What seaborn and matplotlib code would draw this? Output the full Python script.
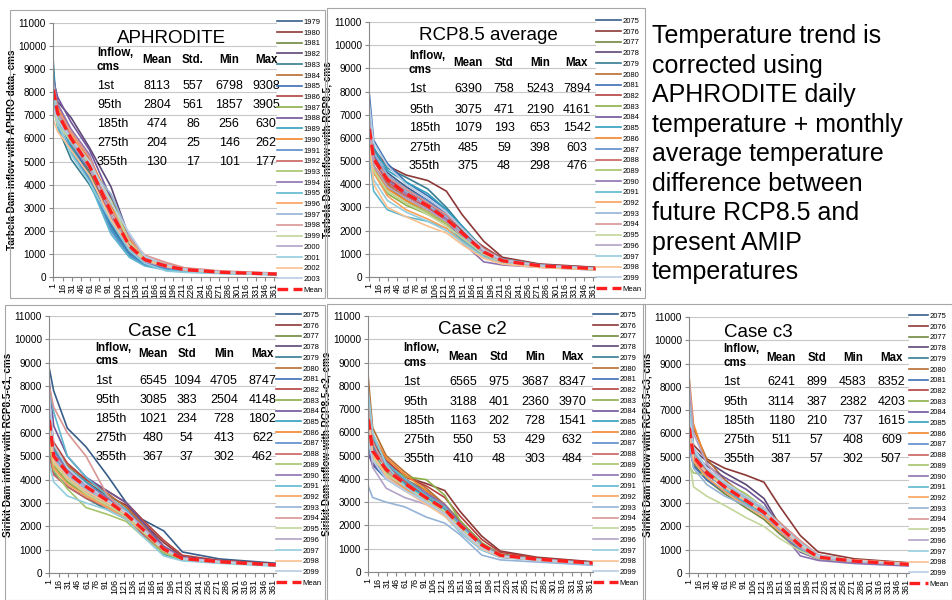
import matplotlib
matplotlib.use('Agg')
import matplotlib.pyplot as plt
import seaborn as sns
import pandas as pd
from matplotlib.patches import Rectangle

days = [1, 8, 30, 60, 95, 125, 150, 185, 215, 275, 365]
years_hist = [str(y) for y in range(1979, 2004)]
years_fut = [str(y) for y in range(2075, 2100)]

aphro_mean = [8113, 7100, 6000, 4800, 2804, 1350, 750, 474, 320, 204, 125]
aphro = [
    [8000, 7000, 5900, 4600, 2600, 1100, 650, 430, 300, 200, 120],
    [8400, 7300, 6200, 5000, 3000, 1500, 900, 560, 350, 220, 135],
    [7600, 6800, 5700, 4500, 2700, 1300, 700, 480, 310, 195, 120],
    [8700, 7600, 6900, 5600, 3905, 1700, 850, 500, 330, 210, 130],
    [9308, 6500, 5100, 4000, 2300, 1100, 620, 420, 290, 190, 115],
    [8300, 7200, 6100, 5100, 3100, 1500, 780, 470, 320, 205, 125],
    [7900, 6900, 5800, 4400, 2200, 1000, 560, 380, 270, 180, 110],
    [8100, 7100, 6000, 4700, 2500, 1200, 700, 450, 310, 200, 122],
    [7700, 6900, 6000, 4900, 3500, 1600, 800, 500, 330, 210, 128],
    [8500, 7800, 6700, 5500, 3400, 1400, 750, 480, 320, 205, 125],
    [8900, 7000, 5600, 4300, 2100, 950, 550, 360, 260, 175, 108],
    [8200, 7400, 6300, 5200, 3200, 1600, 820, 500, 330, 215, 130],
    [7500, 6600, 5500, 4200, 2000, 900, 520, 340, 250, 170, 105],
    [8000, 7200, 6100, 4900, 2900, 1450, 800, 520, 340, 215, 132],
    [7800, 7000, 5900, 4800, 3300, 1500, 760, 470, 310, 200, 122],
    [8600, 7500, 6400, 5300, 2600, 1150, 640, 420, 290, 190, 116],
    [7400, 6500, 5400, 4100, 1857, 850, 480, 300, 230, 160, 100],
    [8300, 7300, 6200, 5000, 3000, 1550, 900, 600, 380, 240, 150],
    [7600, 6800, 5800, 4700, 3600, 1800, 850, 520, 340, 215, 130],
    [8100, 7200, 6300, 5200, 2900, 1700, 950, 630, 400, 262, 170],
    [7200, 6600, 5900, 4900, 3300, 1500, 780, 480, 320, 210, 128],
    [8000, 7100, 6000, 4700, 2700, 1250, 680, 440, 300, 195, 120],
    [8400, 6700, 5300, 4100, 2400, 1150, 600, 256, 200, 146, 95],
    [6798, 6300, 5500, 4400, 2500, 1300, 720, 460, 310, 200, 122],
    [7300, 6800, 6000, 5000, 3200, 1900, 900, 530, 340, 220, 135],
]

rcp_mean = [6390, 5100, 4200, 3600, 3075, 2500, 1900, 1079, 700, 485, 360]
rcp = [
    [6500, 5300, 4500, 3900, 3300, 2700, 2000, 1100, 700, 500, 370],
    [7000, 5500, 4800, 4400, 4161, 3700, 2700, 1542, 850, 560, 420],
    [5800, 4700, 3900, 3300, 2800, 2300, 1700, 950, 650, 460, 340],
    [6200, 5000, 4200, 3700, 3200, 2600, 2000, 1150, 720, 490, 360],
    [6800, 5400, 4700, 4300, 3800, 3000, 2200, 1200, 780, 520, 380],
    [6000, 4800, 4000, 3400, 2900, 2400, 1800, 1000, 680, 480, 350],
    [7894, 5900, 4900, 4100, 3500, 2900, 2100, 1100, 720, 500, 370],
    [6600, 5200, 4300, 3700, 3100, 2600, 2000, 1300, 800, 540, 400],
    [5500, 4500, 3600, 3100, 2700, 2300, 1700, 950, 640, 460, 340],
    [6300, 5100, 4100, 3500, 3000, 2400, 1700, 900, 620, 450, 330],
    [7200, 5600, 4600, 4100, 3600, 2900, 2200, 1200, 780, 530, 390],
    [5900, 4700, 3800, 3300, 2800, 2300, 1600, 900, 630, 460, 340],
    [6700, 5300, 4400, 3800, 3300, 2800, 2100, 1150, 740, 500, 370],
    [6100, 5000, 4100, 3500, 3000, 2500, 1900, 1050, 690, 480, 360],
    [5600, 4600, 3700, 3200, 2800, 2300, 1800, 1000, 660, 470, 345],
    [6400, 5100, 4200, 3600, 3100, 2500, 1500, 653, 520, 420, 300],
    [5243, 3700, 2900, 2600, 2400, 2100, 1600, 900, 600, 440, 320],
    [6000, 4500, 3500, 2900, 2500, 2100, 1500, 850, 580, 430, 320],
    [6900, 5400, 4400, 3700, 3100, 2600, 1900, 1000, 660, 470, 350],
    [6600, 5100, 4300, 3800, 3200, 2700, 2100, 1200, 760, 510, 380],
    [5700, 4600, 3700, 3200, 2700, 2200, 1700, 980, 650, 460, 340],
    [6200, 4800, 3900, 3400, 2900, 2400, 1800, 1050, 690, 480, 355],
    [5400, 4200, 3300, 2800, 2400, 2000, 1500, 850, 580, 430, 320],
    [5800, 4000, 3000, 2600, 2190, 1900, 1400, 800, 560, 410, 310],
    [7500, 5800, 4800, 4000, 3400, 2800, 2100, 1150, 740, 500, 370],
]

c1_mean = [6545, 5000, 4300, 3700, 3085, 2500, 1900, 1021, 620, 480, 340]
c1 = [
    [8747, 7800, 6200, 5400, 4148, 3000, 2300, 1802, 900, 600, 420],
    [6700, 5200, 4500, 3900, 3300, 2900, 2200, 1300, 700, 520, 380],
    [5600, 4500, 3900, 3400, 2900, 2400, 1800, 950, 600, 470, 340],
    [6300, 5000, 4300, 3800, 3200, 2700, 2000, 1050, 640, 490, 350],
    [5200, 4300, 3700, 3200, 2700, 2300, 1700, 900, 580, 450, 320],
    [7400, 5400, 4600, 4000, 3400, 2800, 2100, 1100, 660, 500, 360],
    [6100, 4800, 4100, 3500, 3000, 2500, 1900, 1000, 610, 470, 335],
    [7100, 5600, 4700, 4000, 3500, 3000, 2300, 1400, 760, 540, 390],
    [5800, 4600, 3900, 3300, 2800, 2300, 1700, 880, 580, 460, 330],
    [8200, 6300, 5000, 4100, 3500, 3000, 2200, 1150, 680, 510, 360],
    [6900, 5300, 4500, 3900, 3200, 2600, 1700, 800, 560, 450, 320],
    [6000, 4700, 4000, 3400, 2900, 2400, 1800, 950, 600, 470, 335],
    [6400, 5000, 4300, 3700, 3100, 2600, 1900, 1050, 640, 490, 350],
    [5000, 4200, 3700, 3200, 2800, 2300, 1700, 900, 590, 460, 330],
    [5500, 4400, 3600, 2800, 2504, 2200, 1600, 850, 570, 440, 315],
    [6600, 5200, 4400, 3800, 3200, 2700, 2000, 1100, 650, 495, 355],
    [7900, 6900, 5000, 4100, 3300, 2700, 1900, 1000, 620, 480, 340],
    [5700, 4500, 3800, 3300, 2800, 2300, 1800, 950, 600, 470, 330],
    [6200, 4900, 4200, 3600, 3000, 2500, 1900, 1000, 620, 480, 340],
    [8000, 7100, 6000, 5000, 3300, 2600, 1900, 1000, 630, 485, 345],
    [5900, 4700, 4000, 3400, 2900, 2400, 1800, 950, 600, 470, 330],
    [6800, 5100, 4300, 3700, 3100, 2600, 2000, 1050, 640, 490, 350],
    [4705, 3900, 3300, 3000, 2700, 2300, 1600, 728, 520, 413, 290],
    [6300, 4800, 4100, 3500, 3000, 2500, 1900, 1000, 620, 480, 340],
    [7600, 5500, 4500, 3800, 3100, 2600, 1900, 1000, 610, 475, 335],
]

c2_mean = [6565, 5200, 4400, 3800, 3188, 2700, 2000, 1163, 720, 550, 380]
c2 = [
    [6800, 5400, 4500, 3900, 3300, 2800, 2000, 1150, 720, 550, 380],
    [7200, 5600, 4700, 4100, 3800, 3500, 2600, 1541, 900, 632, 440],
    [6300, 5200, 4500, 4000, 3500, 2900, 2200, 1250, 760, 570, 400],
    [5800, 4700, 4200, 3800, 3300, 2800, 2000, 1150, 710, 550, 380],
    [6500, 5100, 4300, 3700, 3100, 2600, 1900, 1100, 690, 540, 370],
    [8347, 6200, 5000, 4300, 3600, 2900, 2100, 1200, 740, 560, 390],
    [5500, 4600, 4000, 3500, 3000, 2500, 1800, 1050, 670, 530, 365],
    [7100, 5700, 4800, 4100, 3700, 3200, 2400, 1400, 850, 600, 420],
    [6200, 5300, 4600, 4100, 3970, 3300, 2200, 1250, 760, 565, 395],
    [5100, 4600, 4300, 3900, 3400, 2800, 2000, 1150, 710, 550, 380],
    [6900, 5500, 4500, 3800, 3200, 2700, 2000, 1150, 710, 545, 378],
    [7500, 5900, 4900, 4200, 3500, 2800, 1900, 1050, 670, 530, 365],
    [5900, 4800, 4100, 3600, 3000, 2500, 1700, 950, 630, 510, 350],
    [6600, 5300, 4500, 3900, 3300, 2800, 2100, 1200, 740, 560, 390],
    [6100, 5000, 4300, 3700, 3100, 2600, 1900, 1100, 690, 540, 372],
    [6700, 5300, 4600, 4000, 3400, 2900, 2100, 1200, 730, 555, 385],
    [7000, 5800, 4700, 4000, 3300, 2800, 2000, 1150, 700, 545, 378],
    [6400, 5000, 4200, 3600, 3000, 2500, 1800, 1000, 650, 520, 360],
    [3687, 3200, 3000, 2800, 2360, 2100, 1600, 728, 520, 429, 290],
    [7300, 5600, 4400, 3700, 3100, 2600, 1900, 1100, 690, 540, 372],
    [6000, 4900, 4200, 3700, 3100, 2600, 1900, 1100, 690, 540, 370],
    [6800, 4500, 3600, 3200, 2900, 2500, 1800, 1050, 670, 530, 362],
    [7800, 6000, 4600, 3700, 3000, 2400, 1700, 950, 640, 515, 355],
    [6700, 5100, 4100, 3500, 2900, 2400, 1800, 1000, 660, 520, 360],
    [5600, 4800, 4000, 3500, 3000, 2500, 1800, 1050, 680, 535, 365],
]

c3_mean = [6241, 5000, 4300, 3700, 3114, 2600, 2000, 1180, 680, 511, 370]
c3 = [
    [6300, 5000, 4300, 3700, 3100, 2600, 2000, 1150, 680, 510, 370],
    [7000, 5500, 4900, 4500, 4203, 3900, 2900, 1615, 900, 609, 440],
    [5800, 4700, 4000, 3400, 2800, 2300, 1700, 950, 610, 480, 350],
    [6600, 5300, 4800, 4300, 3800, 3200, 2100, 1000, 620, 490, 355],
    [6900, 5200, 4400, 3800, 3200, 2700, 2000, 1200, 690, 515, 372],
    [7900, 6200, 4900, 4000, 3300, 2800, 2200, 1250, 700, 520, 375],
    [5400, 4600, 4000, 3500, 3000, 2500, 1800, 1000, 620, 490, 355],
    [6200, 5000, 4300, 3700, 3200, 2700, 2100, 1300, 730, 530, 385],
    [5700, 4800, 4200, 3800, 3300, 2800, 2100, 1200, 700, 520, 375],
    [6400, 5100, 4600, 4100, 3600, 3000, 2000, 900, 600, 480, 350],
    [7100, 5300, 4400, 3800, 3100, 2600, 1900, 1100, 660, 505, 365],
    [8352, 6400, 4700, 3900, 3200, 2700, 2000, 1150, 680, 510, 370],
    [5900, 4800, 4100, 3500, 3000, 2500, 1800, 1050, 640, 495, 360],
    [6500, 5100, 4400, 3800, 3200, 2700, 2100, 1250, 720, 525, 380],
    [4583, 4300, 4200, 3900, 3400, 2800, 2000, 1150, 680, 510, 370],
    [6100, 4900, 4200, 3700, 3200, 2800, 1900, 737, 540, 408, 300],
    [6800, 5200, 4300, 3600, 3000, 2500, 1800, 1050, 640, 495, 360],
    [6000, 4800, 4100, 3500, 2900, 2400, 1800, 1100, 660, 505, 365],
    [5600, 4500, 3800, 3300, 2900, 2500, 1900, 1150, 680, 510, 370],
    [6300, 5100, 4300, 3700, 3100, 2600, 2200, 1400, 780, 545, 395],
    [4900, 3700, 3300, 2900, 2382, 2000, 1500, 950, 620, 490, 350],
    [8200, 6000, 4700, 3900, 3200, 2600, 1900, 1100, 660, 505, 365],
    [7200, 5400, 4500, 3800, 3200, 2700, 2100, 1300, 760, 540, 390],
    [6000, 4900, 4300, 3700, 3100, 2600, 2000, 1200, 700, 560, 420],
    [6700, 5300, 4500, 3900, 3300, 2800, 2100, 1250, 720, 525, 380],
]

# inset tables: percentile rows and Mean / Std / Min / Max
row_labels = ['1st', '95th', '185th', '275th', '355th']
aphro_tab = [[8113, 557, 6798, 9308], [2804, 561, 1857, 3905], [474, 86, 256, 630],
             [204, 25, 146, 262], [130, 17, 101, 177]]
rcp_tab = [[6390, 758, 5243, 7894], [3075, 471, 2190, 4161], [1079, 193, 653, 1542],
           [485, 59, 398, 603], [375, 48, 298, 476]]
c1_tab = [[6545, 1094, 4705, 8747], [3085, 383, 2504, 4148], [1021, 234, 728, 1802],
          [480, 54, 413, 622], [367, 37, 302, 462]]
c2_tab = [[6565, 975, 3687, 8347], [3188, 401, 2360, 3970], [1163, 202, 728, 1541],
          [550, 53, 429, 632], [410, 48, 303, 484]]
c3_tab = [[6241, 899, 4583, 8352], [3114, 387, 2382, 4203], [1180, 210, 737, 1615],
          [511, 57, 408, 609], [387, 57, 302, 507]]

palette = ['#385D8A', '#8C3836', '#71893F', '#5C4776', '#357D91', '#B66D31',
           '#3C6EB4', '#B4413E', '#8CB04A', '#71559A', '#31A0BE', '#F2852D',
           '#5B8BCB', '#C9625F', '#A6C46A', '#8E72B0', '#5DB7CF', '#F9A15C',
           '#95B3D7', '#D99694', '#C3D69B', '#B3A2C7', '#93CDDD', '#FAC090',
           '#B9CDE5']

plt.rcParams['font.family'] = ['Liberation Sans', 'DejaVu Sans']

fig = plt.figure(figsize=(9.52, 6.0), dpi=100)

# panel frames (pixel boxes)
for x0, y0, x1, y1 in [(10, 10, 325, 298), (327, 8, 645, 298), (5, 305, 325, 600),
                       (327, 304, 645, 600), (643, 304, 952, 600)]:
    fig.add_artist(Rectangle((x0 / 952, 1 - y1 / 600), (x1 - x0) / 952, (y1 - y0) / 600,
                             transform=fig.transFigure, fill=False, ec='#A6A6A6', lw=0.8))

panels = [
    dict(rect=[53, 23, 277, 277], years=years_hist, vals=aphro, mean=aphro_mean, tab=aphro_tab,
         title='APHRODITE', tpos=(0.53, 0.94), ylabel='Tarbela Dam inflow with APHRO data, cms',
         std='Std.', cols=[0.196, 0.464, 0.625, 0.786, 0.951], hl=3.3,
         rows=[0.882, 0.827, 0.854, 0.752, 0.677, 0.602, 0.528, 0.453]),
    dict(rect=[369, 22, 596, 277], years=years_fut, vals=rcp, mean=rcp_mean, tab=rcp_tab,
         title='RCP8.5 average', tpos=(0.524, 0.949), ylabel='Tarbela Dam inflow with RCP8.5, cms',
         std='Std', cols=[0.176, 0.436, 0.595, 0.753, 0.916], hl=3.3,
         rows=[0.867, 0.812, 0.839, 0.737, 0.655, 0.584, 0.506, 0.435]),
    dict(rect=[49, 316, 276, 573], years=years_fut, vals=c1, mean=c1_mean, tab=c1_tab,
         title='Case c1', tpos=(0.50, 0.938), ylabel='Sirikit Dam inflow with RCP8.5-c1, cms',
         std='Std', cols=[0.203, 0.46, 0.607, 0.77, 0.94], hl=3.3,
         rows=[0.875, 0.825, 0.852, 0.747, 0.673, 0.6, 0.525, 0.451]),
    dict(rect=[368, 316, 593, 572], years=years_fut, vals=c2, mean=c2_mean, tab=c2_tab,
         title='Case c2', tpos=(0.462, 0.949), ylabel='Sirikit Dam inflow with RCP8.5-c2, cms',
         std='Std', cols=[0.156, 0.422, 0.582, 0.742, 0.907], hl=3.3,
         rows=[0.875, 0.816, 0.84, 0.742, 0.664, 0.59, 0.516, 0.441]),
    dict(rect=[689, 317, 909, 573], years=years_fut, vals=c3, mean=c3_mean, tab=c3_tab,
         title='Case c3', tpos=(0.314, 0.938), ylabel='Sirikit Dam inflow with RCP8.5-c3, cms',
         std='Std', cols=[0.155, 0.42, 0.58, 0.745, 0.92], hl=2.5,
         rows=[0.875, 0.82, 0.84, 0.746, 0.668, 0.594, 0.52, 0.445]),
]

for p in panels:
    x0, y0, x1, y1 = p['rect']
    ax = fig.add_axes([x0 / 952, 1 - y1 / 600, (x1 - x0) / 952, (y1 - y0) / 600])

    recs = []
    for yr, v in zip(p['years'], p['vals']):
        for d, f in zip(days, v):
            recs.append({'day': d, 'flow': f, 'year': yr})
    df = pd.DataFrame(recs)
    sns.lineplot(data=df, x='day', y='flow', hue='year', hue_order=p['years'],
                 palette=palette, lw=1.2, ax=ax, legend=False)
    sns.lineplot(x=days, y=p['mean'], color='#FF1F1F', lw=2.4, ax=ax, label='Mean')
    ax.lines[-1].set_dashes([3.2, 1.6])

    ax.set_xlim(0.5, 365.5)
    ax.set_ylim(0, 11000)
    ax.set_yticks(range(0, 11001, 1000))
    ax.set_xticks(range(1, 366, 15))
    ax.set_xticklabels([str(t) for t in range(1, 366, 15)], rotation=90, fontsize=6.5)
    ax.tick_params(axis='y', labelsize=7.2, length=3, color='#888888', pad=2)
    ax.tick_params(axis='x', length=3, color='#888888', pad=1)
    ax.grid(axis='y', color='#C8C8C8', lw=0.8)
    ax.set_axisbelow(True)
    for s in ['top', 'right']:
        ax.spines[s].set_visible(False)
    for s in ['left', 'bottom']:
        ax.spines[s].set_color('#888888')
        ax.spines[s].set_linewidth(0.8)
    ax.set_xlabel('')
    ax.set_ylabel(p['ylabel'], fontsize=7.2, fontweight='bold', labelpad=1)

    # legend: one entry per year plus the mean
    handles = ax.lines[:len(p['years'])] + [ax.lines[-1]]
    labels = p['years'] + ['Mean']
    ax.legend(handles, labels, loc='upper left', bbox_to_anchor=(1.0, 1.017), frameon=False,
              fontsize=5.5, handlelength=p['hl'], handletextpad=0.2, labelspacing=0.44,
              borderpad=0, borderaxespad=0)

    ax.text(p['tpos'][0], p['tpos'][1], p['title'], transform=ax.transAxes, fontsize=13.5,
            ha='center', va='center')
    c = p['cols']
    r = p['rows']
    ax.text(c[0], r[0], 'Inflow,', transform=ax.transAxes, fontsize=8.3, fontweight='bold',
            ha='left', va='center')
    ax.text(c[0], r[1], 'cms', transform=ax.transAxes, fontsize=8.3, fontweight='bold',
            ha='left', va='center')
    for cx, h in zip(c[1:], ['Mean', p['std'], 'Min', 'Max']):
        ax.text(cx, r[2], h, transform=ax.transAxes, fontsize=8.3, fontweight='bold',
                ha='center', va='center')
    for ry, lab, vals in zip(r[3:], row_labels, p['tab']):
        ax.text(c[0], ry, lab, transform=ax.transAxes, fontsize=9, ha='left', va='center')
        for cx, v in zip(c[1:], vals):
            ax.text(cx, ry, str(v), transform=ax.transAxes, fontsize=9, ha='center', va='center')

note = ('Temperature trend is\ncorrected using\nAPHRODITE daily\ntemperature + monthly\n'
        'average temperature\ndifference between\nfuture RCP8.5 and\npresent AMIP\ntemperatures')
fig.text(652 / 952, 1 - 24 / 600, note, fontsize=18, ha='left', va='top', linespacing=1.29)

fig.savefig('out.png', dpi=100)
